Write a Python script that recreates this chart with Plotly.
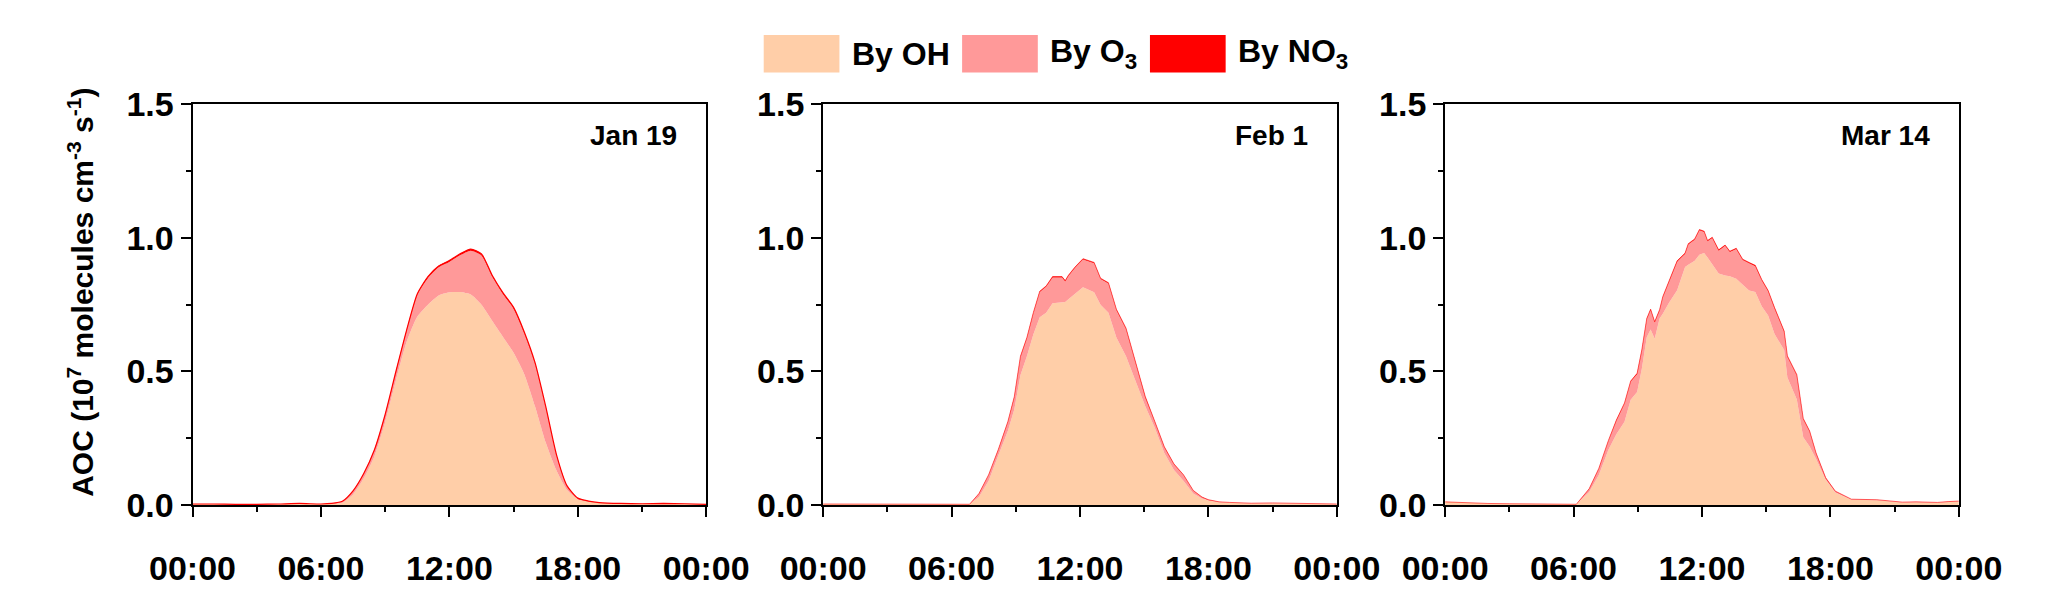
import plotly.graph_objects as go

# ---------------- data (hours of day, AOC in 1e7 molecules cm-3 s-1) ----------------
hours1 = [0, 1, 2, 3, 4, 5, 6, 6.5, 7, 7.5, 8, 8.5, 9, 9.5, 10, 10.5, 11, 11.5, 12, 12.5,
          13, 13.5, 14, 14.5, 15, 15.5, 16, 16.5, 17, 17.5, 18, 18.5, 19, 20, 21, 22, 23, 24]
oh1 = [0.004, 0.004, 0.003, 0.003, 0.004, 0.006, 0.004, 0.006, 0.009, 0.040, 0.100, 0.183,
       0.310, 0.465, 0.610, 0.705, 0.750, 0.784, 0.796, 0.797, 0.788, 0.750, 0.690, 0.630,
       0.570, 0.490, 0.370, 0.235, 0.130, 0.056, 0.022, 0.013, 0.009, 0.006, 0.005, 0.006,
       0.005, 0.003]
o3_1 = [0, 0, 0, 0, 0, 0, 0, 0, 0.004, 0.012, 0.016, 0.022, 0.026, 0.030, 0.040, 0.081,
        0.100, 0.106, 0.114, 0.138, 0.164, 0.184, 0.165, 0.160, 0.165, 0.153, 0.159, 0.131,
        0.057, 0.014, 0.003, 0.001, 0.0005, 0, 0, 0, 0, 0]
no3_1 = [0, 0, 0, 0, 0, 0, 0, 0, 0.001, 0.001, 0.002, 0.002, 0.003, 0.004, 0.004, 0.004,
         0.005, 0.005, 0.005, 0.005, 0.006, 0.006, 0.005, 0.005, 0.005, 0.005, 0.005, 0.004,
         0.003, 0.002, 0.001, 0.001, 0, 0, 0, 0, 0, 0]

hours2 = [0, 1, 2, 3, 4, 5, 6, 6.84, 7.28, 7.73, 8.18, 8.63, 8.93, 9.22, 9.52, 9.82, 10.12,
          10.42, 10.72, 11.16, 11.31, 11.46, 11.76, 12.14, 12.66, 12.96, 13.33, 13.7, 14.15,
          14.6, 15.05, 15.5, 15.94, 16.39, 16.84, 17.29, 17.7, 18, 18.5, 19, 20, 21, 22, 23, 24]
oh2 = [0.004, 0.004, 0.003, 0.003, 0.003, 0.003, 0.003, 0.003, 0.030, 0.090, 0.185, 0.277,
       0.358, 0.487, 0.557, 0.638, 0.703, 0.720, 0.755, 0.760, 0.760, 0.770, 0.790, 0.815,
       0.796, 0.750, 0.720, 0.627, 0.557, 0.464, 0.370, 0.288, 0.195, 0.131, 0.090, 0.043,
       0.025, 0.017, 0.011, 0.009, 0.006, 0.007, 0.005, 0.004, 0.003]
o3_2 = [0, 0, 0, 0, 0, 0, 0, 0, 0.012, 0.022, 0.020, 0.033, 0.045, 0.067, 0.067, 0.079,
        0.094, 0.097, 0.097, 0.092, 0.077, 0.087, 0.097, 0.104, 0.109, 0.096, 0.109, 0.103,
        0.102, 0.070, 0.033, 0.022, 0.021, 0.021, 0.022, 0.011, 0.004, 0.002, 0.001, 0.001,
        0.001, 0.001, 0.001, 0.001, 0.001]
no3_2 = [0, 0, 0, 0, 0, 0, 0, 0, 0.001, 0.001, 0.002, 0.002, 0.002, 0.003, 0.003, 0.003,
         0.003, 0.003, 0.003, 0.003, 0.003, 0.003, 0.003, 0.003, 0.003, 0.003, 0.003, 0.003,
         0.003, 0.003, 0.003, 0.002, 0.002, 0.002, 0.001, 0.001, 0.001, 0.001, 0, 0, 0, 0, 0,
         0, 0]

hours3 = [0, 1, 2, 3, 4, 5, 6.13, 6.73, 7.18, 7.63, 8.0, 8.38, 8.67, 8.97, 9.19, 9.42, 9.60,
          9.79, 10.02, 10.17, 10.46, 10.84, 11.21, 11.36, 11.66, 11.88, 12.10, 12.26, 12.48,
          12.78, 13.08, 13.3, 13.6, 13.9, 14.2, 14.49, 14.79, 15.09, 15.39, 15.84, 15.99,
          16.43, 16.73, 17.03, 17.33, 17.78, 18.23, 18.98, 20.17, 21.36, 22, 23, 23.5, 24]
oh3 = [0.012, 0.008, 0.006, 0.005, 0.004, 0.003, 0.003, 0.049, 0.113, 0.207, 0.265, 0.312,
       0.394, 0.423, 0.510, 0.628, 0.657, 0.622, 0.698, 0.716, 0.757, 0.804, 0.891, 0.899,
       0.914, 0.937, 0.943, 0.926, 0.902, 0.867, 0.859, 0.856, 0.847, 0.824, 0.803, 0.797,
       0.744, 0.709, 0.640, 0.580, 0.477, 0.395, 0.254, 0.219, 0.172, 0.095, 0.047, 0.020,
       0.018, 0.010, 0.011, 0.009, 0.012, 0.014]
o3_3 = [0, 0, 0, 0, 0, 0, 0, 0.011, 0.023, 0.034, 0.051, 0.068, 0.068, 0.067, 0.068, 0.067,
        0.073, 0.061, 0.030, 0.061, 0.078, 0.107, 0.049, 0.076, 0.079, 0.091, 0.079, 0.061,
        0.097, 0.085, 0.111, 0.091, 0.111, 0.093, 0.102, 0.097, 0.097, 0.091, 0.096, 0.068,
        0.078, 0.090, 0.067, 0.056, 0.021, 0.005, 0.004, 0.002, 0.002, 0.001, 0.001, 0.001,
        0.001, 0.001]
no3_3 = [0, 0, 0, 0, 0, 0, 0, 0.001, 0.001, 0.001, 0.002, 0.002, 0.002, 0.003, 0.003, 0.003,
         0.003, 0.003, 0.003, 0.003, 0.003, 0.003, 0.003, 0.003, 0.003, 0.003, 0.003, 0.003,
         0.003, 0.003, 0.003, 0.003, 0.003, 0.003, 0.003, 0.003, 0.003, 0.003, 0.003, 0.003,
         0.003, 0.003, 0.003, 0.002, 0.002, 0.002, 0.001, 0, 0, 0, 0, 0, 0, 0]

panel_labels = ["Jan 19", "Feb 1", "Mar 14"]
series_names = ["By OH", "By O<sub>3</sub>", "By NO<sub>3</sub>"]
x_tickvals = [0, 6, 12, 18, 24]
x_ticktext = ["00:00", "06:00", "12:00", "18:00", "00:00"]
y_tickvals = [0, 0.5, 1.0, 1.5]
y_ticktext = ["0.0", "0.5", "1.0", "1.5"]

colors = ["#FFCEA8", "#FF9999", "#FF0000"]

# ---------------- figure ----------------
W, H = 2067, 599
FONT = "Liberation Sans, Arial, sans-serif"

fig = go.Figure()

panels = [(hours1, oh1, o3_1, no3_1), (hours2, oh2, o3_2, no3_2), (hours3, oh3, o3_3, no3_3)]
red_width = [1.2, 0.6, 0.6]
for i, (hh, a, b, c) in enumerate(panels):
    xa = "x" if i == 0 else f"x{i+1}"
    ya = "y" if i == 0 else f"y{i+1}"
    shape = "spline" if i == 0 else "linear"
    for vals, col, nm, lw in zip((a, b, c), colors, series_names, (0, 0, red_width[i])):
        fig.add_trace(go.Scatter(
            x=hh, y=vals, mode="lines", name=nm, stackgroup=f"p{i}",
            line=dict(color=col, width=lw, shape=shape, smoothing=0.6),
            fillcolor=col, showlegend=False, xaxis=xa, yaxis=ya,
            hoverinfo="skip"))

x_domains = [(156 / W, 692 / W), (814 / W, 1350 / W), (1463 / W, 1999 / W)]
y_domain = (1 - 519 / H, 1 - 91 / H)

axis_common = dict(showline=True, linecolor="black", linewidth=2, mirror=True,
                   ticks="outside", tickcolor="black", tickwidth=2, ticklen=10,
                   showgrid=False, zeroline=False,
                   tickfont=dict(family=FONT, size=34, color="black", weight="bold"))

layout = dict(width=W, height=H, margin=dict(l=0, r=0, t=0, b=0),
              paper_bgcolor="white", plot_bgcolor="white", showlegend=False)

for i in range(3):
    xk = "xaxis" if i == 0 else f"xaxis{i+1}"
    yk = "yaxis" if i == 0 else f"yaxis{i+1}"
    xa = "x" if i == 0 else f"x{i+1}"
    ya = "y" if i == 0 else f"y{i+1}"
    layout[xk] = dict(axis_common, domain=list(x_domains[i]), anchor=ya, range=[0, 24],
                      tickmode="array", tickvals=x_tickvals, ticktext=x_ticktext,
                      ticklabelstandoff=22,
                      minor=dict(tickmode="linear", tick0=0, dtick=3, ticks="outside",
                                 ticklen=5, tickwidth=2, tickcolor="black", showgrid=False))
    layout[yk] = dict(axis_common, domain=list(y_domain), anchor=xa, range=[0, 1.5],
                      tickmode="array", tickvals=y_tickvals, ticktext=y_ticktext,
                      minor=dict(tickmode="linear", tick0=0, dtick=0.25, ticks="outside",
                                 ticklen=5, tickwidth=2, tickcolor="black", showgrid=False))

fig.update_layout(**layout)

# panel labels
for i, lab in enumerate(panel_labels):
    xa = "x" if i == 0 else f"x{i+1}"
    ya = "y" if i == 0 else f"y{i+1}"
    fig.add_annotation(text=lab, xref=f"{xa} domain", yref=f"{ya} domain",
                       x=1 - 28 / 536, y=(519 - 124) / 428, xanchor="right", yanchor="middle",
                       showarrow=False,
                       font=dict(family=FONT, size=28, color="black", weight="bold"))

# y-axis title
fig.add_annotation(text="AOC (10<sup>7</sup> molecules cm<sup>-3</sup> s<sup>-1</sup>)",
                   xref="paper", yref="paper", x=40 / W, y=1 - 292 / H, textangle=-90,
                   xanchor="center", yanchor="middle", showarrow=False,
                   font=dict(family=FONT, size=30, color="black", weight="bold"))

# legend (swatches + labels)
sw = [(752, 831, 842), (959, 1038, 1049), (1155, 1234, 1245)]
for (x0, x1, tx), col, nm in zip(sw, colors, series_names):
    fig.add_shape(type="rect", xref="paper", yref="paper",
                  x0=x0 / W, x1=x1 / W, y0=1 - 57 / H, y1=1 - 17 / H,
                  fillcolor=col, line=dict(width=0))
    fig.add_annotation(text=nm, xref="paper", yref="paper", x=tx / W, y=1 - 37 / H,
                       xanchor="left", yanchor="middle", showarrow=False,
                       font=dict(family=FONT, size=32, color="black", weight="bold"))

fig.write_html("out.html", config={"displayModeBar": False},
               post_script="document.body.style.margin='0';")
